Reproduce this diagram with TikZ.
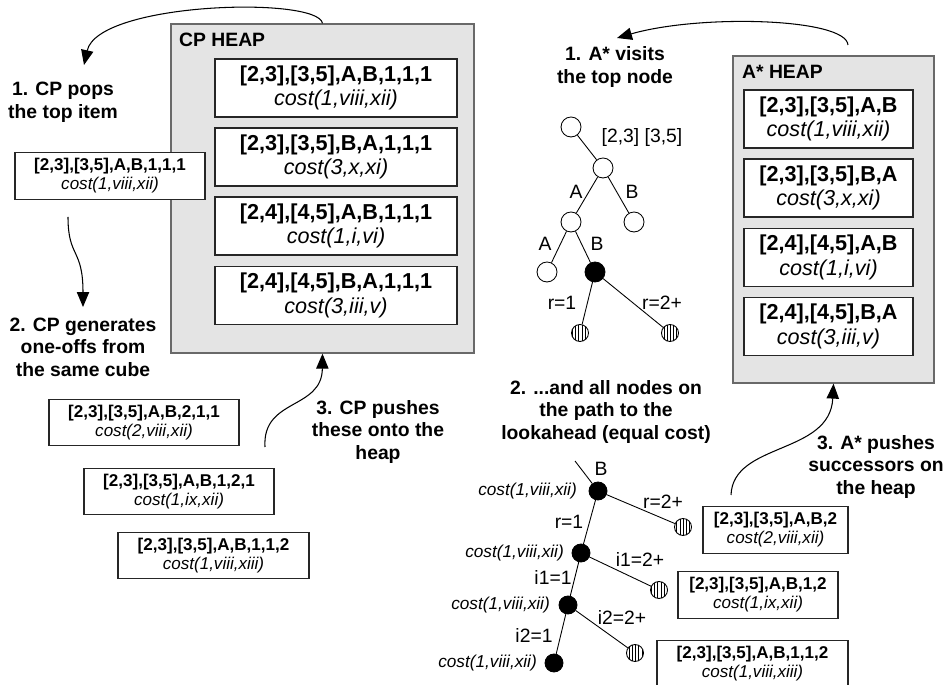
\documentclass[tikz,border=0pt]{standalone}
\usepackage{fontspec}
\setmainfont{Liberation Sans}
\usetikzlibrary{arrows.meta,patterns.meta}
\definecolor{heapfill}{RGB}{228,228,228}
\definecolor{heapline}{RGB}{105,105,105}

\begin{document}
\begin{tikzpicture}[
  x=0.02cm,
  y=-0.02cm,
  heap/.style={draw=heapline, fill=heapfill, line width=0.8pt, inner sep=0pt},
  heaptitle/.style={font=\fontsize{11}{13}\selectfont\bfseries, anchor=west},
  bigitem/.style={
    draw=black!85,
    fill=white,
    line width=0.7pt,
    align=center,
    inner sep=0pt,
    minimum height=1.16cm,
    font=\fontsize{12.3}{14}\selectfont
  },
  smallitem/.style={
    draw=black!85,
    fill=white,
    line width=0.7pt,
    align=center,
    inner sep=0pt,
    minimum height=0.93cm,
    font=\fontsize{9.7}{10.8}\selectfont
  },
  stepnote/.style={font=\fontsize{11}{12.8}\selectfont\bfseries, align=center},
  treenode/.style={circle, draw, line width=0.5pt, minimum size=0.4cm, inner sep=0pt},
  visited/.style={treenode, fill=black},
  leaf/.style={
    circle,
    draw,
    line width=0.5pt,
    minimum size=0.34cm,
    inner sep=0pt,
    pattern={Lines[angle=90,distance=1.8pt,line width=0.45pt]}
  },
  edgelbl/.style={font=\fontsize{11}{13}\selectfont},
  costlbl/.style={font=\fontsize{9.8}{11}\selectfont\itshape, anchor=east},
  tedge/.style={line width=0.5pt},
  flow/.style={line width=0.6pt, -{Triangle[length=8.5pt,width=7pt]}}
]

\useasboundingbox (0,0) rectangle (947,685);

% CP side
\node[heap, minimum width=6.06cm, minimum height=6.58cm] (cpheap) at (322.5,188.5) {};
\node[heaptitle] (cptitle) at (173,40) {CP HEAP};
\node[bigitem, minimum width=4.84cm] (cp1) at (336,88)
  {\textbf{[2,3],[3,5],A,B,1,1,1}\\\textit{cost(1,viii,xii)}};
\node[bigitem, minimum width=4.84cm] (cp2) at (336,157)
  {\textbf{[2,3],[3,5],B,A,1,1,1}\\\textit{cost(3,x,xi)}};
\node[bigitem, minimum width=4.84cm] (cp3) at (336,226)
  {\textbf{[2,4],[4,5],A,B,1,1,1}\\\textit{cost(1,i,vi)}};
\node[bigitem, minimum width=4.84cm] (cp4) at (336,295.5)
  {\textbf{[2,4],[4,5],B,A,1,1,1}\\\textit{cost(3,iii,v)}};

\node[smallitem, minimum width=3.8cm] (popped) at (110,176)
  {\textbf{[2,3],[3,5],A,B,1,1,1}\\\textit{cost(1,viii,xii)}};

\node[stepnote] (cppop) at (63,102.5) {1. CP pops\\the top item};
\node[stepnote] (cpgen) at (83,347) {2. CP generates\\one-offs from\\the same cube};
\node[stepnote] (cppush) at (378,432) {3. CP pushes\\these onto the\\heap};

\node[smallitem, minimum width=3.8cm] (off1) at (144,422.5)
  {\textbf{[2,3],[3,5],A,B,2,1,1}\\\textit{cost(2,viii,xii)}};
\node[smallitem, minimum width=3.8cm] (off2) at (179,491.5)
  {\textbf{[2,3],[3,5],A,B,1,2,1}\\\textit{cost(1,ix,xii)}};
\node[smallitem, minimum width=3.82cm] (off3) at (213.5,555.5)
  {\textbf{[2,3],[3,5],A,B,1,1,2}\\\textit{cost(1,viii,xiii)}};

\coordinate (popin) at (84,65);
\coordinate (genout) at (68,217);
\coordinate (genin) at (83,307);
\coordinate (pushout) at (265,447);
\draw[flow] (cpheap.north) .. controls (318,-4) and (98,2) .. (popin);
\draw[flow] (genout) .. controls (68,258) and (83,248) .. (genin);
\draw[flow] (pushout) .. controls (262,398) and (322,410) .. (cpheap.south);

% A* side
\node[heap, minimum width=4.02cm, minimum height=6.54cm] (asheap) at (833.5,219.5) {};
\node[heaptitle] (astitle) at (736,72) {A* HEAP};
\node[bigitem, minimum width=3.38cm] (as1) at (828.5,119)
  {\textbf{[2,3],[3,5],A,B}\\\textit{cost(1,viii,xii)}};
\node[bigitem, minimum width=3.38cm] (as2) at (828.5,188)
  {\textbf{[2,3],[3,5],B,A}\\\textit{cost(3,x,xi)}};
\node[bigitem, minimum width=3.38cm] (as3) at (828.5,257.5)
  {\textbf{[2,4],[4,5],A,B}\\\textit{cost(1,i,vi)}};
\node[bigitem, minimum width=3.38cm] (as4) at (828.5,326.5)
  {\textbf{[2,4],[4,5],B,A}\\\textit{cost(3,iii,v)}};

\node[stepnote] (asvisit) at (615,67) {1. A* visits\\the top node};
\node[stepnote] (aspath) at (606,412) {2. ...and all nodes on\\the path to the\\lookahead (equal cost)};
\node[stepnote] (aspush) at (876,467) {3. A* pushes\\successors on\\the heap};

% search tree
\node[treenode] (t0) at (571,127) {};
\node[treenode] (t1) at (603,168) {};
\node[treenode] (t2) at (571,222) {};
\node[treenode] (t3) at (634,222) {};
\node[treenode] (t4) at (547,272) {};
\node[visited] (t5) at (595,272) {};
\node[leaf] (t6) at (580,333) {};
\node[leaf] (t7) at (670,333) {};
\draw[tedge] (t0) -- (t1);
\draw[tedge] (t1) -- (t2);
\draw[tedge] (t1) -- (t3);
\draw[tedge] (t2) -- (t4);
\draw[tedge] (t2) -- (t5);
\draw[tedge] (t5) -- (t6);
\draw[tedge] (t5) -- (t7);
\node[edgelbl] (lspan) at (642,138) {[2,3] [3,5]};
\node[edgelbl] (la1) at (576,192) {A};
\node[edgelbl] (lb1) at (632,192) {B};
\node[edgelbl] (la2) at (545,244) {A};
\node[edgelbl] (lb2) at (597,244) {B};
\node[edgelbl] (lr1) at (562,303) {r=1};
\node[edgelbl] (lr2) at (662,303) {r=2+};

% lookahead path
\coordinate (pin) at (575,461);
\node[visited, minimum size=0.36cm] (p0) at (598,491) {};
\node[visited, minimum size=0.36cm] (p1) at (581,553) {};
\node[visited, minimum size=0.36cm] (p2) at (568,605) {};
\node[visited, minimum size=0.36cm] (p3) at (554,663) {};
\node[leaf] (q0) at (683,527) {};
\node[leaf] (q1) at (659,590) {};
\node[leaf] (q2) at (635,653) {};
\draw[tedge] (pin) -- (p0);
\draw[tedge] (p0) -- (p1);
\draw[tedge] (p1) -- (p2);
\draw[tedge] (p2) -- (p3);
\draw[tedge] (p0) -- (q0);
\draw[tedge] (p1) -- (q1);
\draw[tedge] (p2) -- (q2);
\node[edgelbl] (lb3) at (601,469) {B};
\node[edgelbl] (lr3) at (569,522) {r=1};
\node[edgelbl] (lr4) at (663,502) {r=2+};
\node[edgelbl] (li1) at (553,577) {i1=1};
\node[edgelbl] (li2) at (640,559) {i1=2+};
\node[edgelbl] (li3) at (534,635) {i2=1};
\node[edgelbl] (li4) at (622,617) {i2=2+};
\node[costlbl] (c0) at (583,491) {cost(1,viii,xii)};
\node[costlbl] (c1) at (570,553) {cost(1,viii,xii)};
\node[costlbl] (c2) at (556,605) {cost(1,viii,xii)};
\node[costlbl] (c3) at (543,663) {cost(1,viii,xii)};

\node[smallitem, minimum width=2.9cm] (res1) at (775.5,530)
  {\textbf{[2,3],[3,5],A,B,2}\\\textit{cost(2,viii,xii)}};
\node[smallitem, minimum width=3.2cm] (res2) at (758,595)
  {\textbf{[2,3],[3,5],A,B,1,2}\\\textit{cost(1,ix,xii)}};
\node[smallitem, minimum width=3.82cm] (res3) at (752.5,664)
  {\textbf{[2,3],[3,5],A,B,1,1,2}\\\textit{cost(1,viii,xiii)}};

\coordinate (asout) at (848,45);
\coordinate (visitin) at (617,38);
\coordinate (succout) at (731,495);
\draw[flow] (asout) .. controls (846,18) and (700,14) .. (visitin);
\draw[flow] (succout) .. controls (733,442) and (830,455) .. (asheap.south);

\end{tikzpicture}
\end{document}
